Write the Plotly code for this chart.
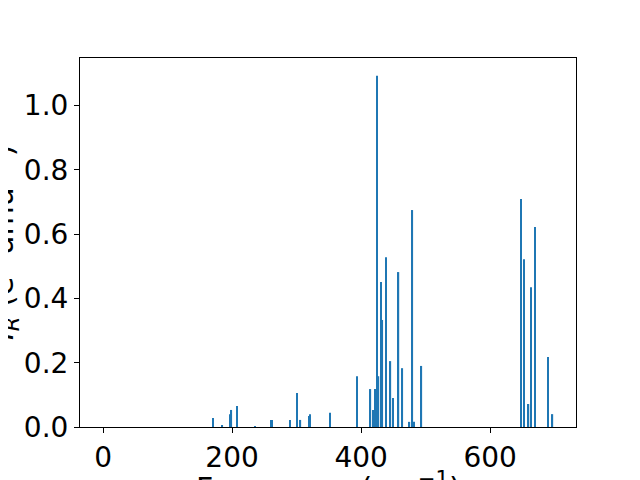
import plotly.graph_objects as go

freq = [0, 171, 185, 197, 199, 208, 236, 260, 262, 290, 301, 306, 319, 321, 352,
        394, 414.5, 418.6, 422, 424.5, 427, 431, 433, 438.5, 445.5, 449, 458, 464,
        475, 479.5, 482, 493.5, 648, 652.5, 659.5, 663.6, 669.5, 689.7, 696.6]
intensity = [0.0, 0.028, 0.006, 0.040, 0.053, 0.065, 0.003, 0.022, 0.022, 0.022, 0.106,
             0.022, 0.034, 0.040, 0.044, 0.158, 0.118, 0.053, 0.118, 1.093, 0.158,
             0.451, 0.333, 0.528, 0.205, 0.090, 0.482, 0.183, 0.016, 0.675, 0.016,
             0.190, 0.709, 0.522, 0.0715, 0.435, 0.622, 0.218, 0.040]
x_ticks = [0, 200, 400, 600]
y_ticks = [0.0, 0.2, 0.4, 0.6, 0.8, 1.0]

fig = go.Figure(go.Bar(x=freq, y=intensity, width=2, marker_color="#1f77b4",
                       marker_line_width=0))

axis_common = dict(showgrid=False, zeroline=False, showline=True, linecolor="black",
                   linewidth=1, mirror=True, ticks="outside", ticklen=5,
                   tickcolor="black", tickfont=dict(size=28, color="black",
                                                    family="DejaVu Sans"))
fig.update_xaxes(range=[-35.7, 733], tickvals=x_ticks,
                 ticktext=[str(v) for v in x_ticks], **axis_common)
fig.update_yaxes(range=[0, 1.148], tickvals=y_ticks,
                 ticktext=[f"{v:.1f}" for v in y_ticks], **axis_common)

fig.update_layout(
    width=640, height=480, margin=dict(l=72, r=72, t=50, b=61, autoexpand=False),
    plot_bgcolor="white", paper_bgcolor="white", showlegend=False,
    font=dict(family="DejaVu Sans", color="black"),
    annotations=[
        dict(text="<i>I</i><sub><i>R</i></sub> (e<sup>2</sup> amu<sup>−1</sup>)",
             xref="paper", yref="paper", x=0, y=0.5, xanchor="right", yanchor="middle",
             xshift=-54, textangle=-90, showarrow=False,
             font=dict(size=30, color="black", family="DejaVu Sans")),
        dict(text="Frequency (cm<sup>−1</sup>)",
             xref="paper", yref="paper", x=0.5, y=0, xanchor="center", yanchor="top",
             yshift=-38, showarrow=False,
             font=dict(size=30, color="black", family="DejaVu Sans")),
    ],
)

fig.write_html("out.html")
